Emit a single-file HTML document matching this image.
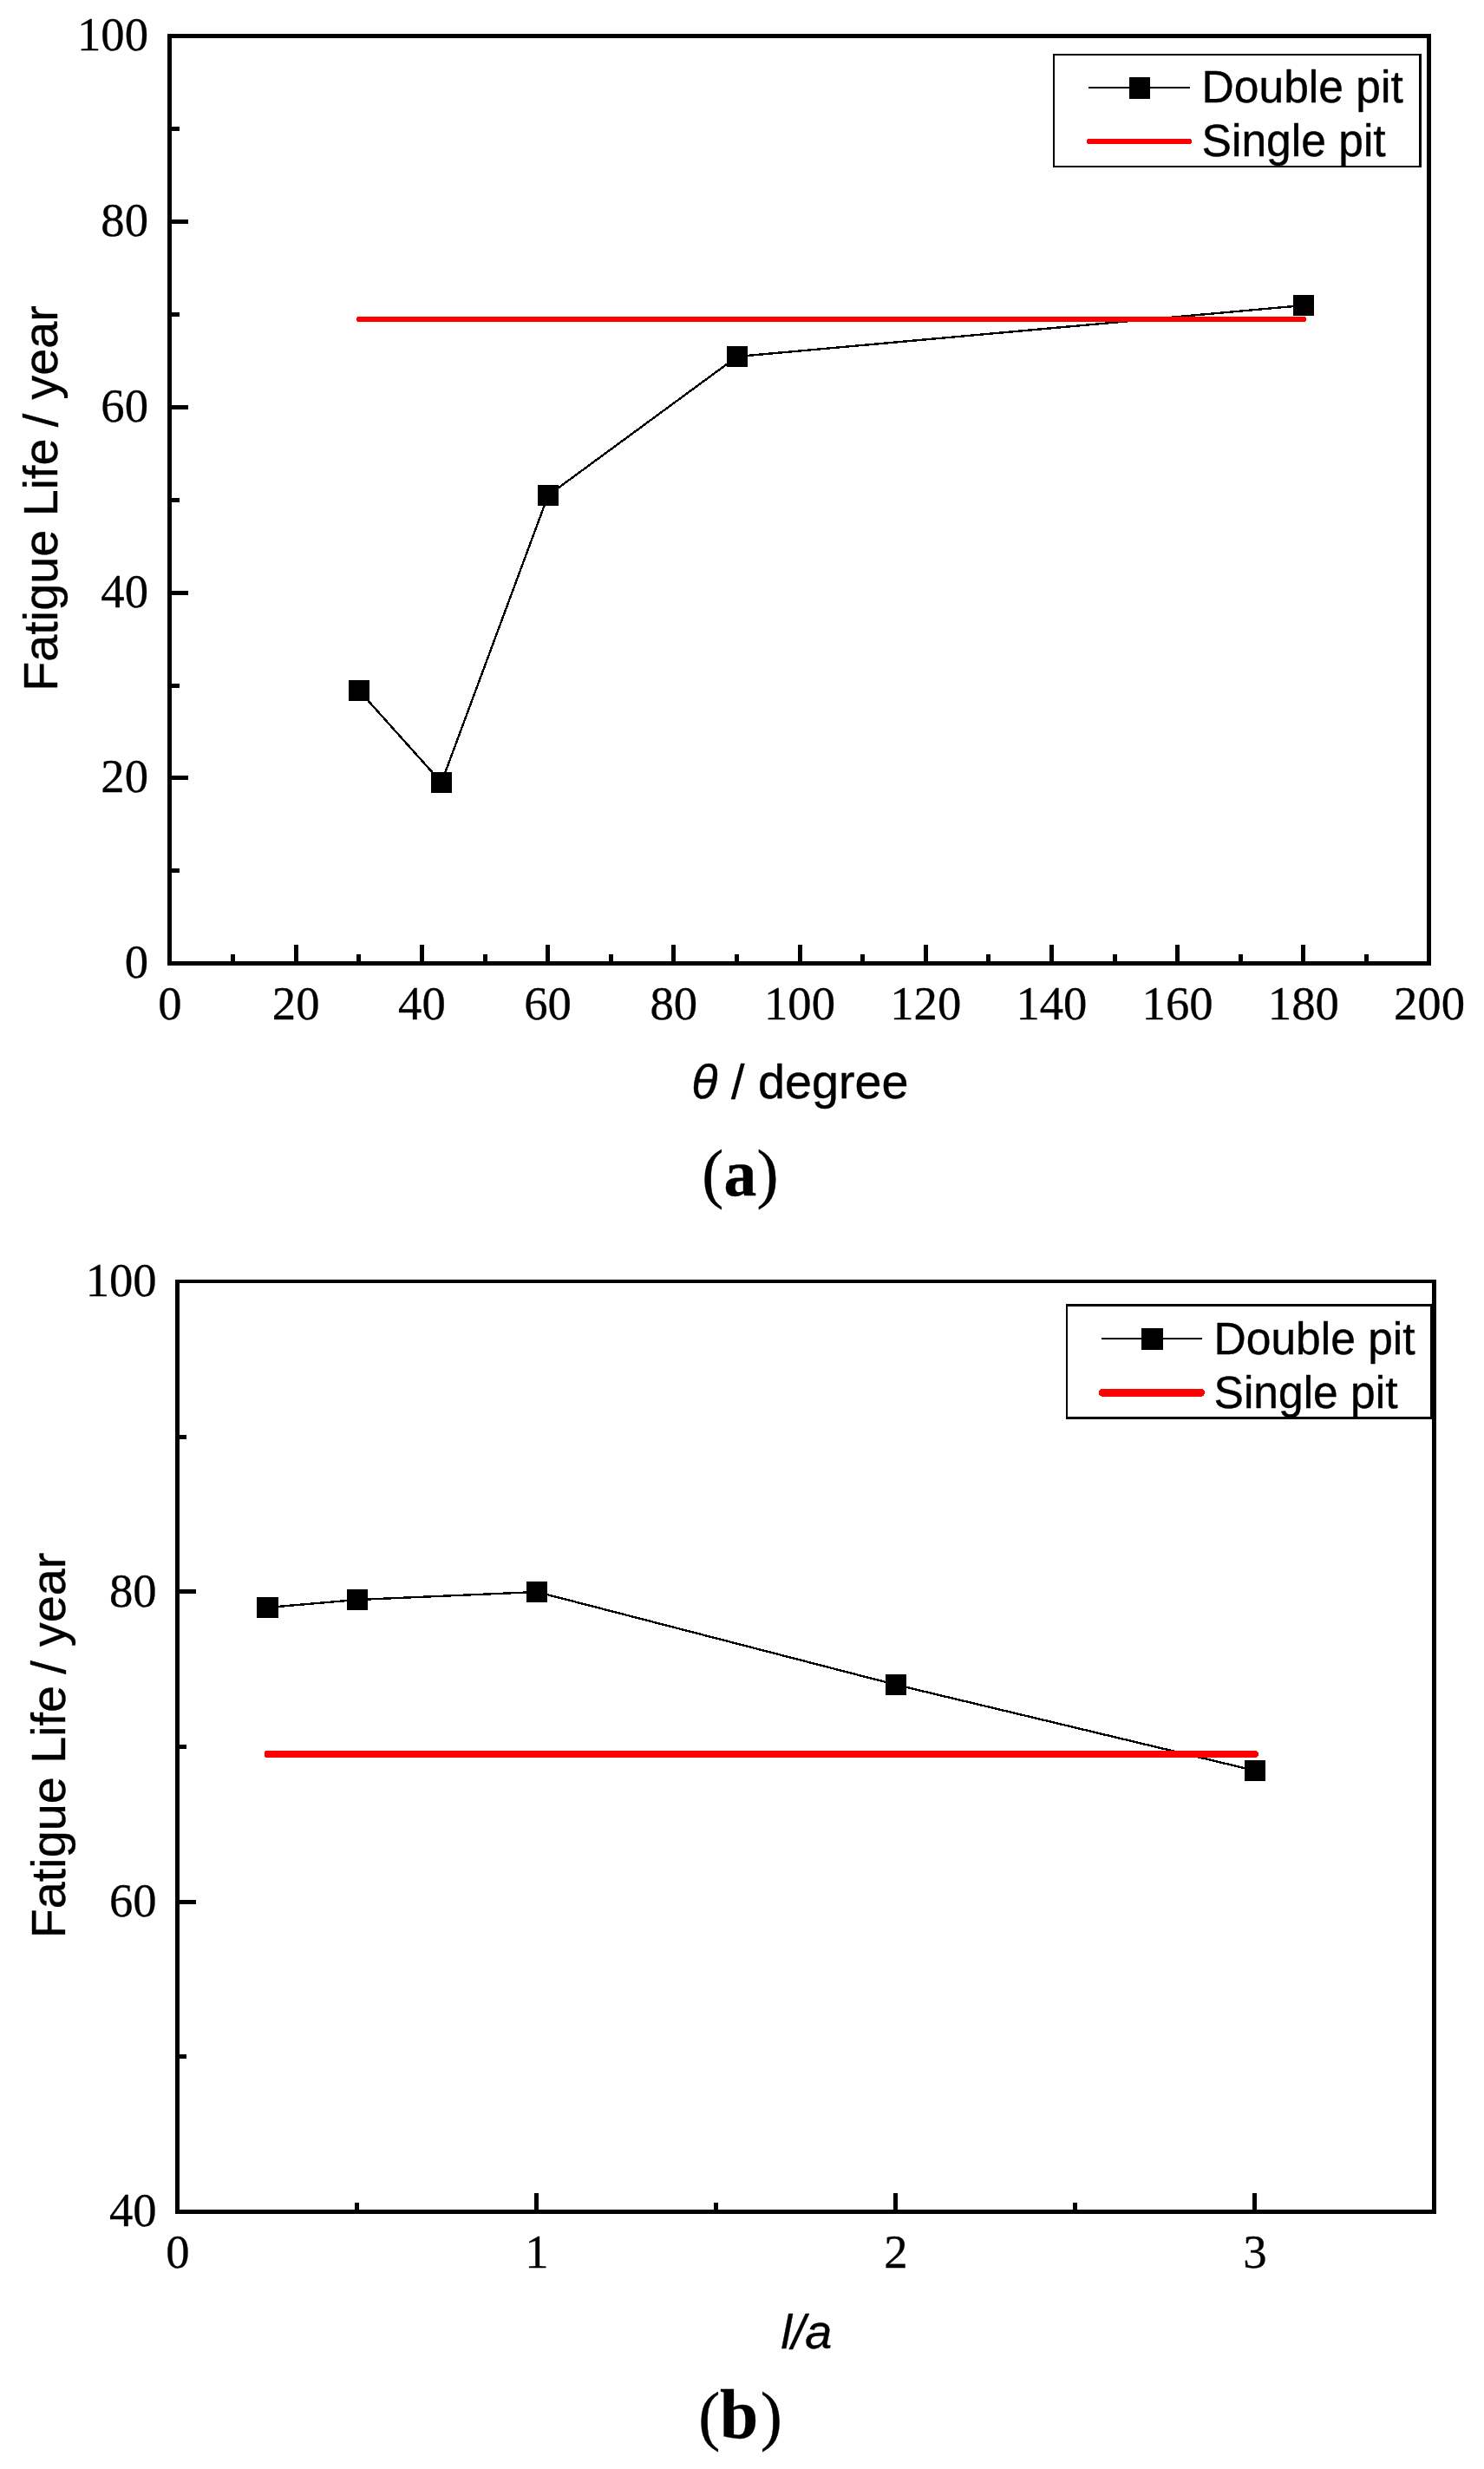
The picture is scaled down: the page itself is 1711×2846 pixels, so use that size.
<!DOCTYPE html>
<html lang="en">
<head>
<meta charset="utf-8">
<title>Fatigue life versus pit angle and pit spacing</title>
<style>
html,body{margin:0;padding:0;background:#fff;}
body{width:1711px;height:2846px;overflow:hidden;}
svg{display:block;}
text{fill:#000;stroke:#000;stroke-width:.4px;stroke-linejoin:round;}
text.t{stroke-width:.3px;}
</style>
</head>
<body>
<svg width="1711" height="2846" viewBox="0 0 1711 2846">
<rect width="1711" height="2846" fill="#fff"/>
<g shape-rendering="crispEdges">
<path d="M414 796 L509 902 L632 571 L850 411 L1503 352" fill="none" stroke="#000" stroke-width="2.4"/>
<path d="M414 368H1503" fill="none" stroke="#f00" stroke-width="6" stroke-linecap="round"/>
<rect x="402" y="784" width="24" height="24" fill="#000"/>
<rect x="497" y="890" width="24" height="24" fill="#000"/>
<rect x="620" y="559" width="24" height="24" fill="#000"/>
<rect x="838" y="399" width="24" height="24" fill="#000"/>
<rect x="1491" y="340" width="24" height="24" fill="#000"/>
<rect x="1213.9" y="62.2" width="424.7" height="130.6" fill="#fff"/>
<rect x="1213.9" y="62.2" width="424.7" height="2.2" fill="#000"/>
<rect x="1213.9" y="190.6" width="424.7" height="2.2" fill="#000"/>
<rect x="1213.9" y="62.2" width="2.2" height="130.6" fill="#000"/>
<rect x="1636.4" y="62.2" width="2.2" height="130.6" fill="#000"/>
<rect x="1254.9" y="99.9" width="117.2" height="2" fill="#000"/>
<rect x="1302" y="89" width="24" height="25" fill="#000"/>
<path d="M1255.8 162.9H1371.1" fill="none" stroke="#f00" stroke-width="6" stroke-linecap="round"/>
<rect x="338.7" y="1089" width="5" height="22" fill="#000"/>
<rect x="483.9" y="1089" width="5" height="22" fill="#000"/>
<rect x="629.1" y="1089" width="5" height="22" fill="#000"/>
<rect x="774.3" y="1089" width="5" height="22" fill="#000"/>
<rect x="919.5" y="1089" width="5" height="22" fill="#000"/>
<rect x="1064.7" y="1089" width="5" height="22" fill="#000"/>
<rect x="1209.9" y="1089" width="5" height="22" fill="#000"/>
<rect x="1355.1" y="1089" width="5" height="22" fill="#000"/>
<rect x="1500.3" y="1089" width="5" height="22" fill="#000"/>
<rect x="266.1" y="1099.5" width="5" height="11.5" fill="#000"/>
<rect x="411.3" y="1099.5" width="5" height="11.5" fill="#000"/>
<rect x="556.5" y="1099.5" width="5" height="11.5" fill="#000"/>
<rect x="701.7" y="1099.5" width="5" height="11.5" fill="#000"/>
<rect x="846.9" y="1099.5" width="5" height="11.5" fill="#000"/>
<rect x="992.1" y="1099.5" width="5" height="11.5" fill="#000"/>
<rect x="1137.3" y="1099.5" width="5" height="11.5" fill="#000"/>
<rect x="1282.5" y="1099.5" width="5" height="11.5" fill="#000"/>
<rect x="1427.7" y="1099.5" width="5" height="11.5" fill="#000"/>
<rect x="1572.9" y="1099.5" width="5" height="11.5" fill="#000"/>
<rect x="195" y="894" width="22" height="5" fill="#000"/>
<rect x="195" y="681" width="22" height="5" fill="#000"/>
<rect x="195" y="467" width="22" height="5" fill="#000"/>
<rect x="195" y="253" width="22" height="5" fill="#000"/>
<rect x="195" y="1001" width="11.5" height="5" fill="#000"/>
<rect x="195" y="787.5" width="11.5" height="5" fill="#000"/>
<rect x="195" y="574" width="11.5" height="5" fill="#000"/>
<rect x="195" y="360" width="11.5" height="5" fill="#000"/>
<rect x="195" y="146" width="11.5" height="5" fill="#000"/>
<rect x="193" y="39" width="1457" height="5" fill="#000"/>
<rect x="193" y="1108" width="1457" height="5" fill="#000"/>
<rect x="193" y="39" width="5" height="1074" fill="#000"/>
<rect x="1645" y="39" width="5" height="1074" fill="#000"/>
</g>
<text transform="translate(1385.6 118.3) scale(1 1.0)" font-family='"Liberation Sans", Arial, sans-serif' font-size="51.55">Double pit</text>
<text transform="translate(1385.6 180.1) scale(1 1.0)" font-family='"Liberation Sans", Arial, sans-serif' font-size="51.55">Single pit</text>
<text transform="translate(196.00 1175.2) scale(1 1.022)" class="t" text-anchor="middle" font-family='"Liberation Serif", "Times New Roman", serif' font-size="54.7">0</text>
<text transform="translate(341.20 1175.2) scale(1 1.022)" class="t" text-anchor="middle" font-family='"Liberation Serif", "Times New Roman", serif' font-size="54.7">20</text>
<text transform="translate(486.40 1175.2) scale(1 1.022)" class="t" text-anchor="middle" font-family='"Liberation Serif", "Times New Roman", serif' font-size="54.7">40</text>
<text transform="translate(631.60 1175.2) scale(1 1.022)" class="t" text-anchor="middle" font-family='"Liberation Serif", "Times New Roman", serif' font-size="54.7">60</text>
<text transform="translate(776.80 1175.2) scale(1 1.022)" class="t" text-anchor="middle" font-family='"Liberation Serif", "Times New Roman", serif' font-size="54.7">80</text>
<text transform="translate(922.00 1175.2) scale(1 1.022)" class="t" text-anchor="middle" font-family='"Liberation Serif", "Times New Roman", serif' font-size="54.7">100</text>
<text transform="translate(1067.20 1175.2) scale(1 1.022)" class="t" text-anchor="middle" font-family='"Liberation Serif", "Times New Roman", serif' font-size="54.7">120</text>
<text transform="translate(1212.40 1175.2) scale(1 1.022)" class="t" text-anchor="middle" font-family='"Liberation Serif", "Times New Roman", serif' font-size="54.7">140</text>
<text transform="translate(1357.60 1175.2) scale(1 1.022)" class="t" text-anchor="middle" font-family='"Liberation Serif", "Times New Roman", serif' font-size="54.7">160</text>
<text transform="translate(1502.80 1175.2) scale(1 1.022)" class="t" text-anchor="middle" font-family='"Liberation Serif", "Times New Roman", serif' font-size="54.7">180</text>
<text transform="translate(1648.00 1175.2) scale(1 1.022)" class="t" text-anchor="middle" font-family='"Liberation Serif", "Times New Roman", serif' font-size="54.7">200</text>
<text transform="translate(171 1126.90) scale(1 1.022)" class="t" text-anchor="end" font-family='"Liberation Serif", "Times New Roman", serif' font-size="54.7">0</text>
<text transform="translate(171 912.90) scale(1 1.022)" class="t" text-anchor="end" font-family='"Liberation Serif", "Times New Roman", serif' font-size="54.7">20</text>
<text transform="translate(171 699.90) scale(1 1.022)" class="t" text-anchor="end" font-family='"Liberation Serif", "Times New Roman", serif' font-size="54.7">40</text>
<text transform="translate(171 485.90) scale(1 1.022)" class="t" text-anchor="end" font-family='"Liberation Serif", "Times New Roman", serif' font-size="54.7">60</text>
<text transform="translate(171 271.90) scale(1 1.022)" class="t" text-anchor="end" font-family='"Liberation Serif", "Times New Roman", serif' font-size="54.7">80</text>
<text transform="translate(171 57.90) scale(1 1.022)" class="t" text-anchor="end" font-family='"Liberation Serif", "Times New Roman", serif' font-size="54.7">100</text>
<text transform="translate(66 574.5) rotate(-90) scale(1 1.0)" text-anchor="middle" font-family='"Liberation Sans", Arial, sans-serif' font-size="55.75">Fatigue Life<tspan dx="-2.4"> /</tspan><tspan dx="0.6"> year</tspan></text>
<text transform="translate(922.4 1266.3) scale(1 0.98)" text-anchor="middle" font-family='"Liberation Sans", Arial, sans-serif' font-size="55.75"><tspan font-style="italic">θ</tspan> / degree</text>
<text y="1378.4" font-family='"Liberation Serif", "Times New Roman", serif' font-size="75.3"><tspan x="809.3">(</tspan><tspan x="834.5" font-weight="bold" font-size="75.5">a</tspan><tspan x="872.5">)</tspan></text>
<g shape-rendering="crispEdges">
<path d="M308 1853 L412 1844 L619 1835 L1033 1942 L1447 2041" fill="none" stroke="#000" stroke-width="2.4"/>
<path d="M308.5 2022H1447" fill="none" stroke="#f00" stroke-width="8" stroke-linecap="round"/>
<rect x="296" y="1841" width="25" height="24" fill="#000"/>
<rect x="400" y="1832" width="24" height="24" fill="#000"/>
<rect x="607" y="1823" width="24" height="24" fill="#000"/>
<rect x="1021" y="1930" width="24" height="24" fill="#000"/>
<rect x="1435" y="2029" width="24" height="24" fill="#000"/>
<rect x="1229" y="1503.05" width="422.15" height="132.45" fill="#fff"/>
<rect x="1229" y="1503.05" width="422.15" height="3" fill="#000"/>
<rect x="1229" y="1632.5" width="422.15" height="3" fill="#000"/>
<rect x="1229" y="1503.05" width="2.3" height="132.45" fill="#000"/>
<rect x="1648.85" y="1503.05" width="2.3" height="132.45" fill="#000"/>
<rect x="1269.9" y="1541.85" width="116.3" height="2.3" fill="#000"/>
<rect x="1316" y="1531" width="25" height="25" fill="#000"/>
<path d="M1271.45 1605.35H1384.55" fill="none" stroke="#f00" stroke-width="9.1" stroke-linecap="round"/>
<rect x="616" y="2528" width="5" height="22" fill="#000"/>
<rect x="1030" y="2528" width="5" height="22" fill="#000"/>
<rect x="1444" y="2528" width="5" height="22" fill="#000"/>
<rect x="409" y="2539" width="5" height="11" fill="#000"/>
<rect x="823" y="2539" width="5" height="11" fill="#000"/>
<rect x="1237" y="2539" width="5" height="11" fill="#000"/>
<rect x="204" y="2189.6" width="22" height="5" fill="#000"/>
<rect x="204" y="1832.2" width="22" height="5" fill="#000"/>
<rect x="204" y="2368.3" width="11" height="5" fill="#000"/>
<rect x="204" y="2010.9" width="11" height="5" fill="#000"/>
<rect x="204" y="1653.5" width="11" height="5" fill="#000"/>
<rect x="202" y="1475" width="1454" height="4" fill="#000"/>
<rect x="202" y="2547" width="1454" height="5" fill="#000"/>
<rect x="202" y="1475" width="5" height="1077" fill="#000"/>
<rect x="1651" y="1475" width="5" height="1077" fill="#000"/>
</g>
<text transform="translate(1399.5 1560.8) scale(1 1.0)" font-family='"Liberation Sans", Arial, sans-serif' font-size="51.55">Double pit</text>
<text transform="translate(1399.5 1622.6) scale(1 1.0)" font-family='"Liberation Sans", Arial, sans-serif' font-size="51.55">Single pit</text>
<text transform="translate(205.00 2614.2) scale(1 1.022)" class="t" text-anchor="middle" font-family='"Liberation Serif", "Times New Roman", serif' font-size="54.7">0</text>
<text transform="translate(619.00 2614.2) scale(1 1.022)" class="t" text-anchor="middle" font-family='"Liberation Serif", "Times New Roman", serif' font-size="54.7">1</text>
<text transform="translate(1033.00 2614.2) scale(1 1.022)" class="t" text-anchor="middle" font-family='"Liberation Serif", "Times New Roman", serif' font-size="54.7">2</text>
<text transform="translate(1447.00 2614.2) scale(1 1.022)" class="t" text-anchor="middle" font-family='"Liberation Serif", "Times New Roman", serif' font-size="54.7">3</text>
<text transform="translate(180.7 2566.40) scale(1 1.022)" class="t" text-anchor="end" font-family='"Liberation Serif", "Times New Roman", serif' font-size="54.7">40</text>
<text transform="translate(180.7 2209.00) scale(1 1.022)" class="t" text-anchor="end" font-family='"Liberation Serif", "Times New Roman", serif' font-size="54.7">60</text>
<text transform="translate(180.7 1851.60) scale(1 1.022)" class="t" text-anchor="end" font-family='"Liberation Serif", "Times New Roman", serif' font-size="54.7">80</text>
<text transform="translate(180.7 1494.20) scale(1 1.022)" class="t" text-anchor="end" font-family='"Liberation Serif", "Times New Roman", serif' font-size="54.7">100</text>
<text transform="translate(75.1 2012) rotate(-90) scale(1 1.0)" text-anchor="middle" font-family='"Liberation Sans", Arial, sans-serif' font-size="55.75">Fatigue Life<tspan dx="-2.4"> /</tspan><tspan dx="0.6"> year</tspan></text>
<text transform="translate(929.9 2707.0) scale(1 0.99)" text-anchor="middle" font-family='"Liberation Sans", Arial, sans-serif' font-size="55.75" font-style="italic">l/a</text>
<text y="2810.3" font-family='"Liberation Serif", "Times New Roman", serif' font-size="75.3"><tspan x="805.2">(</tspan><tspan x="830.0" font-weight="bold" font-size="79.5">b</tspan><tspan x="876.7">)</tspan></text>
</svg>
</body>
</html>
